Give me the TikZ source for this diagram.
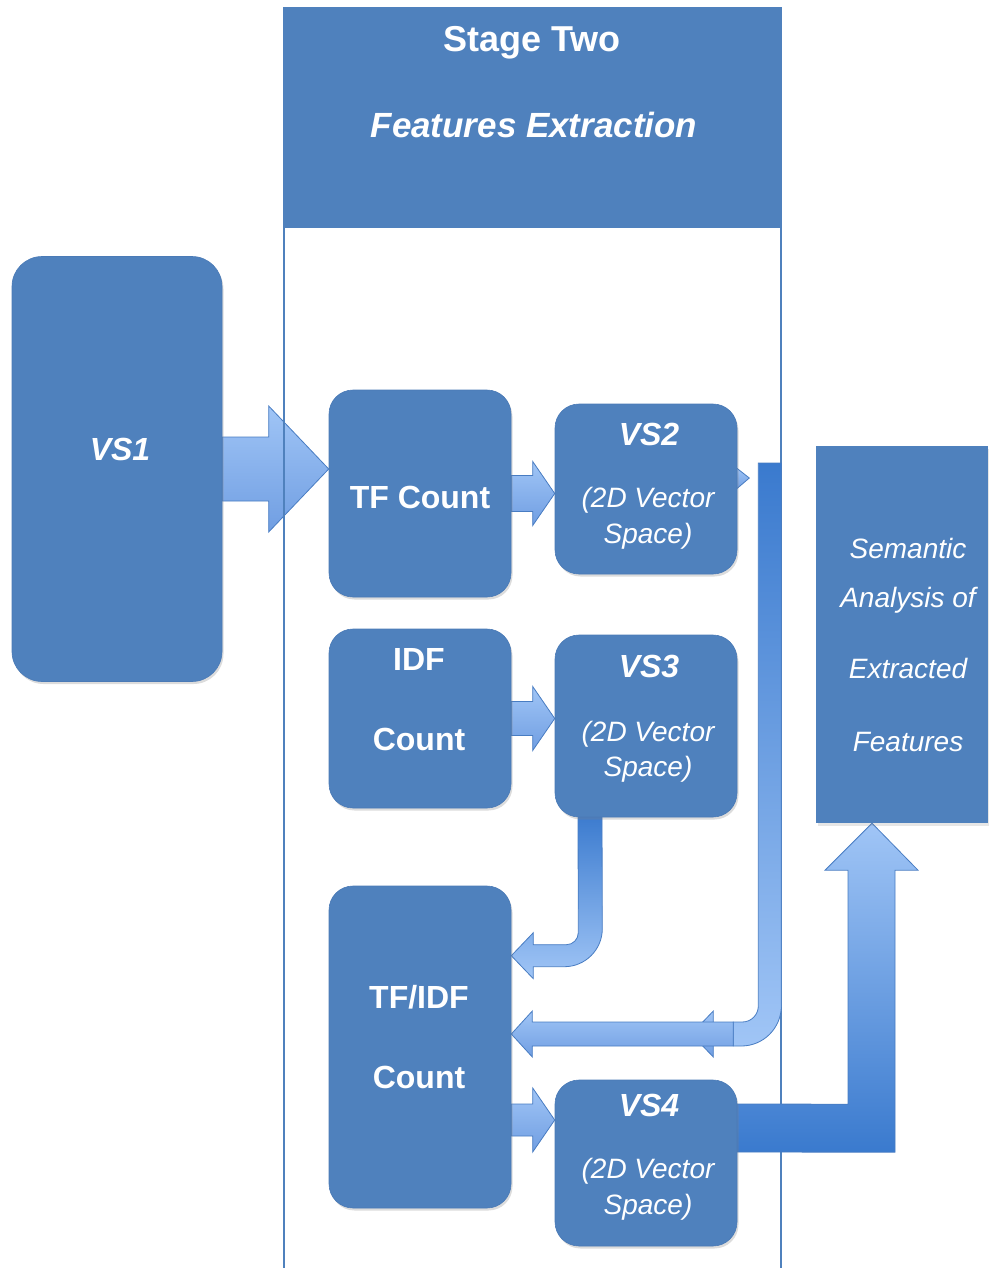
\documentclass[tikz,border=0pt]{standalone}
\usepackage{fontspec}
\setmainfont{Liberation Sans}
\usetikzlibrary{calc,shadows}
\definecolor{boxblue}{RGB}{79,129,189}
\definecolor{boxedge}{RGB}{74,122,182}
\definecolor{arrlight}{RGB}{160,197,246}
\definecolor{arrmid}{RGB}{112,158,226}
\definecolor{arrdark}{RGB}{58,122,206}
\definecolor{arredge}{RGB}{72,124,194}
\pgfdeclarelayer{lzero}\pgfdeclarelayer{lone}\pgfdeclarelayer{ltwo}
\pgfsetlayers{lzero,lone,ltwo,main}
\tikzset{
  box/.style={fill=boxblue, draw=boxedge, line width=0.6pt, rounded corners=24pt, inner sep=0pt,
    drop shadow={shadow xshift=1.5pt, shadow yshift=-2.5pt, opacity=0.28}},
  sembox/.style={fill=boxblue, draw=none, inner sep=0pt,
    drop shadow={shadow xshift=1.5pt, shadow yshift=-2.5pt, opacity=0.2}},
  headbox/.style={fill=boxblue, draw=none, inner sep=0pt},
  stageline/.style={draw=boxblue, line width=1.4pt},
  harrow/.style={top color=arrlight, bottom color=arrmid, draw=arredge, line width=0.8pt, line join=miter},
  vbent/.style={top color=arrdark, bottom color=arrlight, draw=arredge, line width=0.8pt, line join=miter},
  uparrow/.style={top color=arrlight, bottom color=arrdark, draw=arredge, line width=0.8pt, line join=miter},
  ttl/.style={text=white, font=\fontsize{36}{40}\selectfont\bfseries, anchor=base, inner sep=0pt},
  ttli/.style={text=white, font=\fontsize{35}{40}\selectfont\bfseries\itshape, anchor=base, inner sep=0pt},
  bt/.style={text=white, font=\fontsize{32}{36}\selectfont\bfseries, anchor=base, inner sep=0pt},
  bit/.style={text=white, font=\fontsize{32}{36}\selectfont\bfseries\itshape, anchor=base, inner sep=0pt},
  it/.style={text=white, font=\fontsize{28}{32}\selectfont\itshape, anchor=base, inner sep=0pt},
}
\newcommand\hblock[5]{\shade[harrow] let \p1=(#1), \p2=(#2) in
  (\x1,\y2+#3) -- (\x2-#5,\y2+#3) -- (\x2-#5,\y2+#4) -- (\x2,\y2) -- (\x2-#5,\y2-#4) -- (\x2-#5,\y2-#3) -- (\x1,\y2-#3) -- cycle;}
\newcommand\hblockL[5]{\shade[harrow] let \p1=(#1), \p2=(#2) in
  (\x1,\y2+#3) -- (\x2+#5,\y2+#3) -- (\x2+#5,\y2+#4) -- (\x2,\y2) -- (\x2+#5,\y2-#4) -- (\x2+#5,\y2-#3) -- (\x1,\y2-#3) -- cycle;}
\begin{document}
\begin{tikzpicture}[x=1pt,y=-1pt]
\useasboundingbox (0,0) rectangle (988,1268);

% boxes
\node[box, rounded corners=30pt, minimum width=210pt, minimum height=425pt] (vs1) at (117,469) {};
\node[box, minimum width=182pt, minimum height=207pt] (tf) at (420,493.5) {};
\node[box, minimum width=182pt, minimum height=170pt] (vs2) at (646,489) {};
\node[box, minimum width=182pt, minimum height=179pt] (idf) at (420,718.5) {};
\node[box, minimum width=182pt, minimum height=182pt] (vs3) at (646,726) {};
\node[box, minimum width=182pt, minimum height=322pt] (tfidf) at (420,1047) {};
\node[box, minimum width=182pt, minimum height=166pt] (vs4) at (646,1163) {};
\node[sembox, minimum width=172pt, minimum height=377pt] (sem) at (902,634.5) {};

% helper coordinates
\coordinate (t2) at ($(tfidf.east)+(0,-13)$);
\coordinate (t3) at ($(tfidf.north east)+(0,70)$);
\coordinate (t4) at ($(vs4.west)+(0,-43)$);
\coordinate (t5) at ($(sem.south)+(-30,0)$);

% VS1 -> TF Count (under the stage line)
\begin{pgfonlayer}{lzero}
\hblock{vs1.east}{tf.west |- vs1.east}{32pt}{63pt}{60pt}
\end{pgfonlayer}

% stage container
\begin{pgfonlayer}{lone}
\node[headbox, minimum width=497pt, minimum height=220pt] (stage) at (532.5,118) {};
\draw[stageline] (284,1272) -- (284,8) -- (781,8) -- (781,1272);
\end{pgfonlayer}

% other arrows
\begin{pgfonlayer}{ltwo}
\hblock{tf.east}{vs2.west |- tf.east}{18pt}{32pt}{22pt}
\hblock{idf.east}{vs3.west |- idf.east}{17pt}{32pt}{22pt}
\hblock{tfidf.east |- t4}{t4}{16pt}{32pt}{22pt}
% VS2 -> TF/IDF loop
\shade[harrow] ($(vs2.east)+(-2,-22)$) -- ($(vs2.east)+(12,-11)$) -- ($(vs2.east)+(-2,1)$) -- cycle;
\shade[vbent] ($(vs2.east)+(21,-26)$) -- ++(23,0) -- ($(t2)+(270,-28)$)
  arc[start angle=0,end angle=90,radius=40] -- ++(-8,0) -- ++(0,-24) -- ++(9,0)
  arc[start angle=90,end angle=0,radius=16] -- cycle;
\shade[harrow] ($(t2)+(202,-23)$) -- ($(t2)+(180,0)$) -- ($(t2)+(202,23)$) -- cycle;
\hblockL{$(t2)+(222,0)$}{t2}{12pt}{23pt}{21pt}
% VS3 -> TF/IDF
\shade[vbent] ($(vs3.south)+(-68,-5)$) -- ++(24,0) -- ($(t3)+(91,-27)$)
  arc[start angle=0,end angle=90,radius=38] -- ($(t3)+(22,11)$) -- ++(0,12) -- (t3)
  -- ++(22,-23) -- ++(0,12) -- ($(t3)+(55,-11)$)
  arc[start angle=90,end angle=0,radius=12] -- cycle;
% VS4 -> Semantic
\shade[uparrow] ($(vs4.east)+(-5,-59)$) -- ($(t5)+(-24,281)$) -- ($(t5)+(-24,47)$) -- ($(t5)+(-47,47)$)
  -- (t5) -- ($(t5)+(46,47)$) -- ($(t5)+(23,47)$) -- ($(t5)+(23,329)$) -- ($(vs4.east)+(-5,-11)$) -- cycle;
\end{pgfonlayer}

% texts
\node[ttl] (lstage) at (532,52) {Stage Two};
\node[ttli] (lfeat) at (534,138) {Features Extraction};
\node[bit] (lvs1) at (120,460) {VS1};
\node[bt] (ltf) at (420,508) {TF Count};
\node[bit] (lvs2) at (649,445) {VS2};
\node[it] (lvs2a) at (648,507) {(2D Vector};
\node[it] (lvs2b) at (648,543) {Space)};
\node[bt] (lidf) at (419,670) {IDF};
\node[bt] (lidfc) at (419,750) {Count};
\node[bit] (lvs3) at (649,677) {VS3};
\node[it] (lvs3a) at (648,741) {(2D Vector};
\node[it] (lvs3b) at (648,776) {Space)};
\node[bt] (ltfidf) at (419,1008) {TF/IDF};
\node[bt] (ltfidfc) at (419,1088) {Count};
\node[bit] (lvs4) at (649,1116) {VS4};
\node[it] (lvs4a) at (648,1178) {(2D Vector};
\node[it] (lvs4b) at (648,1214) {Space)};
\node[it] (ls1) at (908,558) {Semantic};
\node[it] (ls2) at (908,607) {Analysis of};
\node[it] (ls3) at (908,678) {Extracted};
\node[it] (ls4) at (908,751) {Features};
\end{tikzpicture}
\end{document}
